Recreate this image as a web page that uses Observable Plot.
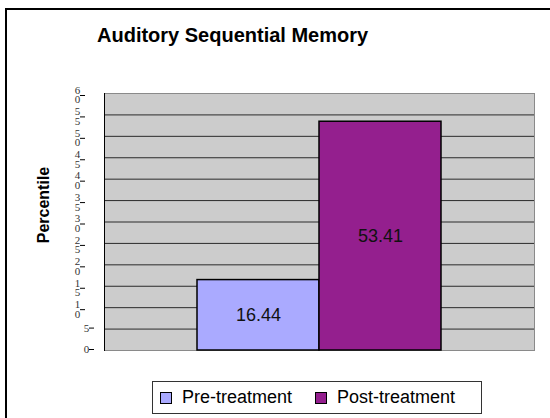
<!DOCTYPE html>
<html><head><meta charset="utf-8">
<script src="https://cdn.jsdelivr.net/npm/d3@7"></script>
<script src="https://cdn.jsdelivr.net/npm/@observablehq/plot@0.6"></script>
<style>
body{margin:0;background:#fff;}
#wrap{position:relative;width:550px;height:418px;overflow:hidden;font-family:Arial,"Liberation Sans",sans-serif;color:#000;}
#border{position:absolute;left:5px;top:8px;width:600px;height:500px;border-left:2px solid #000;border-top:2px solid #000;}
#title{position:absolute;left:97px;top:24px;font-weight:bold;font-size:20px;line-height:23px;white-space:nowrap;}
#ylabel{position:absolute;left:44px;top:205px;transform:translate(-50%,-50%) rotate(-90deg);font-weight:bold;font-size:16px;white-space:nowrap;}
#chart{position:absolute;left:0;top:0;}
#legend{position:absolute;left:152px;top:381px;width:330px;height:33px;border:1px solid #333;box-sizing:border-box;font-size:18px;}
.item{position:absolute;top:0;height:31px;display:flex;align-items:center;white-space:nowrap;}
.sw{width:10px;height:10px;border:1px solid #000;margin-right:10px;}
</style>
</head><body>
<div id="wrap">
  <div id="border"></div>
  <div id="chart"></div>
  <div id="title"></div>
  <div id="ylabel"></div>
  <div id="legend"></div>
</div>
<script>
const title = "Auditory Sequential Memory";
const yLabel = "Percentile";
const categories = ["Pre-treatment", "Post-treatment"];
const values = [16.44, 53.41];
const colors = ["#AAAAFF", "#941F8E"];
const yTicks = [0, 5, 10, 15, 20, 25, 30, 35, 40, 45, 50, 55, 60];

const data = categories.map((c, i) => ({cat: c, value: values[i], color: colors[i]}));
const gridTicks = yTicks.filter(t => t > 0 && t < 60);
const oneDigit = yTicks.filter(t => t < 10);
const twoDigit = yTicks.filter(t => t >= 10);

document.getElementById("title").textContent = title;
document.getElementById("ylabel").textContent = yLabel;

const serif = "'Liberation Serif','Times New Roman',serif";

const chart = Plot.plot({
  width: 550,
  height: 418,
  marginLeft: 104,
  marginRight: 16,
  marginTop: 93,
  marginBottom: 68,
  style: {background: "transparent", overflow: "visible"},
  x: {type: "band", domain: categories, paddingInner: 0, paddingOuter: 0.75, axis: null},
  y: {domain: [0, 60], axis: null},
  marks: [
    Plot.frame({fill: "#CCCCCC", stroke: "#8a8a8a"}),
    Plot.ruleY(gridTicks, {stroke: "#2a2a2a", strokeWidth: 1}),
    Plot.frame({anchor: "left", stroke: "#000"}),
    Plot.axisY(twoDigit, {label: null, tickSize: 5, tickPadding: 3, tickFormat: d => String(d).split("").join("\n"),
      fontFamily: serif, fontSize: 11, textAnchor: "middle", dx: -19, dy: 2, lineHeight: 0.88, fill: "#333"}),
    Plot.axisY(oneDigit, {label: null, tickSize: 5, tickPadding: 3, tickFormat: d => String(d),
      fontFamily: serif, fontSize: 11, textAnchor: "middle", dx: -10, dy: -1, fill: "#333"}),
    Plot.barY(data, {x: "cat", y: "value", fill: "color", stroke: "#000", strokeWidth: 1.5}),
    Plot.text(data, {x: "cat", y: d => d.value / 2, text: d => d.value.toFixed(2),
      fontSize: 18, fontFamily: "Arial, 'Liberation Sans', sans-serif", fill: "#111"})
  ]
});
document.getElementById("chart").appendChild(chart);

const legend = document.getElementById("legend");
const legendX = [7, 162];
categories.forEach((c, i) => {
  const it = document.createElement("div");
  it.className = "item";
  it.style.left = legendX[i] + "px";
  const sw = document.createElement("span");
  sw.className = "sw";
  sw.style.background = colors[i];
  const tx = document.createElement("span");
  tx.textContent = c;
  it.appendChild(sw); it.appendChild(tx);
  legend.appendChild(it);
});
</script>
</body></html>
